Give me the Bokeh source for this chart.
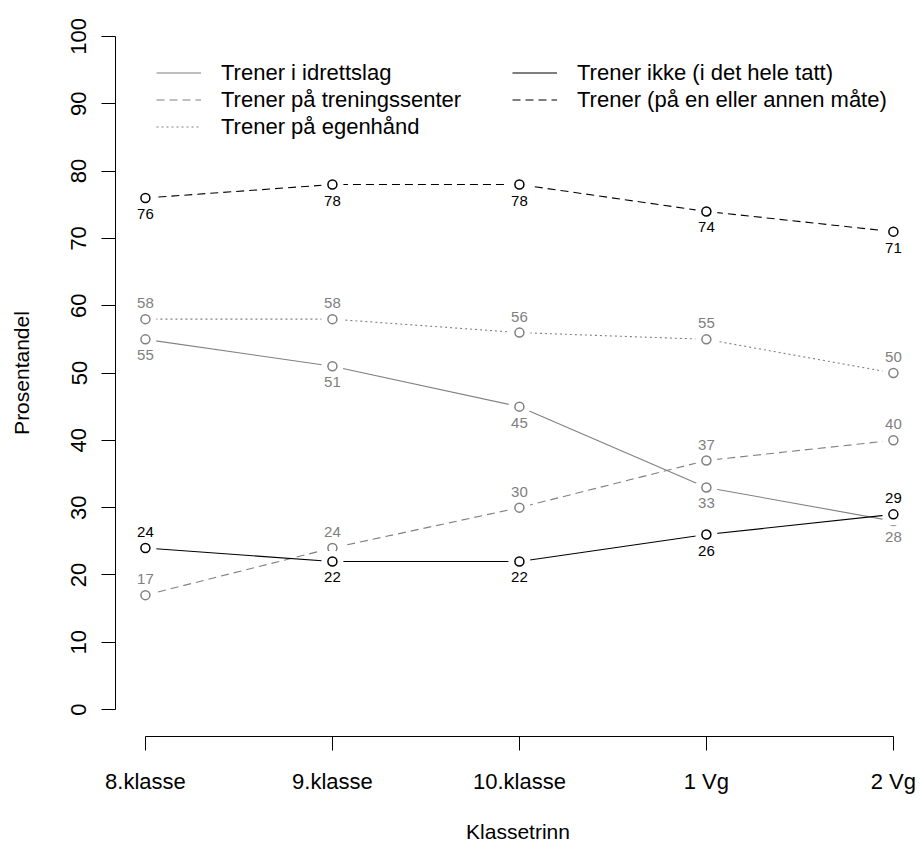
from bokeh.plotting import figure
from bokeh.models import FixedTicker, Legend, LegendItem, ColumnDataSource
from bokeh.core.properties import value
from bokeh.embed import file_html
from bokeh.resources import INLINE

# ---- data ----
categories = ["8.klasse", "9.klasse", "10.klasse", "1 Vg", "2 Vg"]
idrettslag = [55, 51, 45, 33, 28]
treningssenter = [17, 24, 30, 37, 40]
egenhand = [58, 58, 56, 55, 50]
ikke = [24, 22, 22, 26, 29]
trener_total = [76, 78, 78, 74, 71]
y_ticks = [0, 10, 20, 30, 40, 50, 60, 70, 80, 90, 100]

series_names = [
    "Trener i idrettslag",
    "Trener på treningssenter",
    "Trener på egenhånd",
    "Trener ikke (i det hele tatt)",
    "Trener (på en eller annen måte)",
]
series_values = [idrettslag, treningssenter, egenhand, ikke, trener_total]

# ---- styles ----
GRAY = "#808080"
BLACK = "#000000"
styles = [
    dict(color=GRAY, dash="solid", side=["below"] * 5),
    dict(color=GRAY, dash="8 5", side=["above"] * 5),
    dict(color=GRAY, dash="2 3", side=["above"] * 5),
    dict(color=BLACK, dash="solid", side=["above", "below", "below", "below", "above"]),
    dict(color=BLACK, dash="8 5", side=["below"] * 5),
]

FONT = "Liberation Sans"
xs = list(range(1, len(categories) + 1))

p = figure(
    width=920, height=847,
    x_range=(0.84, 5.145), y_range=(-4, 104),
    output_backend="svg", toolbar_location=None,
    min_border_left=115, min_border_right=0, min_border_top=9, min_border_bottom=111,
)
p.outline_line_color = None
p.xgrid.visible = False
p.ygrid.visible = False
p.background_fill_color = "white"
p.border_fill_color = "white"

renderers = []
for name, vals, st in zip(series_names, series_values, styles):
    src = ColumnDataSource(dict(
        x=xs, y=vals, lab=[str(v) for v in vals],
        off=[-16 if s == "above" else 16 for s in st["side"]],
    ))
    r = p.line("x", "y", source=src, line_color=st["color"], line_width=1.1,
               line_dash=st["dash"])
    renderers.append(r)
    # gaps around points (type="b" look)
    p.scatter("x", "y", source=src, size=22, fill_color="white",
              line_color=None, marker="circle")
    p.scatter("x", "y", source=src, size=9, fill_color="white",
              line_color=st["color"], line_width=1.5, marker="circle")
    p.text("x", "y", text="lab", source=src, y_offset="off",
           text_align="center", text_baseline="middle",
           text_font=value(FONT), text_font_size="15px", text_color=st["color"])

# axes
p.xaxis.ticker = FixedTicker(ticks=xs)
p.xaxis.major_label_overrides = {x: c for x, c in zip(xs, categories)}
p.xaxis.bounds = (1, 5)
p.yaxis.ticker = FixedTicker(ticks=y_ticks)
p.yaxis.bounds = (0, 100)
p.yaxis.major_label_orientation = "vertical"
for ax in (p.xaxis[0], p.yaxis[0]):
    ax.axis_line_color = "black"
    ax.axis_line_width = 1
    ax.major_tick_line_color = "black"
    ax.major_tick_out = 14
    ax.major_tick_in = 0
    ax.minor_tick_line_color = None
    ax.major_label_text_font = FONT
    ax.major_label_text_font_size = "22px"
    ax.major_label_text_color = "black"
    ax.axis_label_text_font = FONT
    ax.axis_label_text_font_size = "21px"
    ax.axis_label_text_font_style = "normal"
    ax.axis_label_text_color = "black"
p.xaxis.axis_label = "Klassetrinn"
p.yaxis.axis_label = "Prosentandel"
p.xaxis.major_label_standoff = 18
p.xaxis.axis_label_standoff = 23
p.yaxis.major_label_standoff = 15
p.yaxis.axis_label_standoff = 36

def make_legend(items, loc):
    lg = Legend(items=items, location=loc, orientation="vertical")
    lg.label_text_font = FONT
    lg.label_text_font_size = "22px"
    lg.label_text_color = "black"
    lg.glyph_width = 45
    lg.glyph_height = 27
    lg.label_height = 27
    lg.label_standoff = 20
    lg.spacing = 0
    lg.padding = 0
    lg.margin = 0
    lg.border_line_color = None
    lg.background_fill_alpha = 0
    return lg

items1 = [LegendItem(label=series_names[i], renderers=[renderers[i]]) for i in range(3)]
items2 = [LegendItem(label=series_names[i], renderers=[renderers[i]]) for i in range(3, 5)]
p.add_layout(make_legend(items1, (41, 596)), "center")
p.add_layout(make_legend(items2, (397, 623)), "center")

open("out.html", "w").write(file_html(p, INLINE))
